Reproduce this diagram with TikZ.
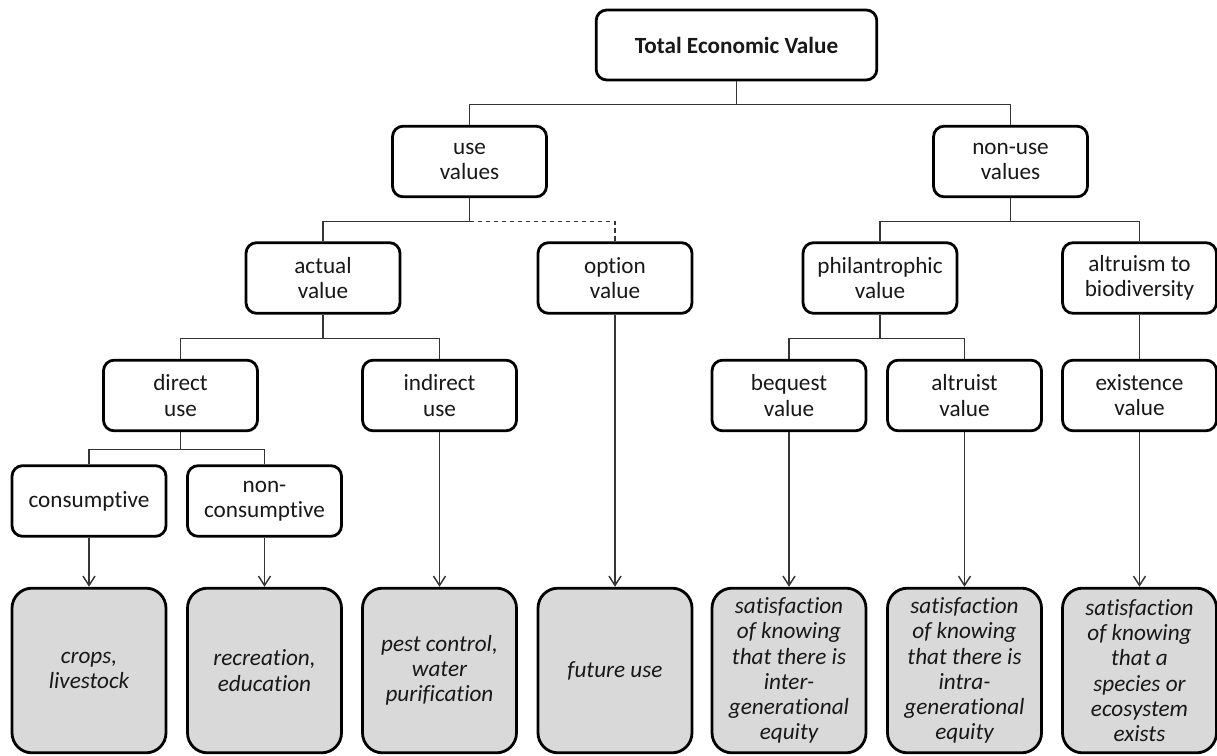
\documentclass[tikz,border=0pt]{standalone}
\usepackage{fontspec}
\setmainfont[Ligatures={NoCommon,NoContextual,NoRare}]{Carlito}
\usetikzlibrary{arrows.meta}
\definecolor{leaffill}{HTML}{D9D9D9}
\definecolor{wire}{HTML}{353535}
\definecolor{ink}{HTML}{181818}
\begin{document}
\begin{tikzpicture}[x=0.75pt,y=-0.75pt,
  every node/.style={font=\fontsize{17.4pt}{18.9pt}\selectfont, text=ink},
  catbox/.style={draw=black, line width=2.1pt, rounded corners=8pt, fill=white,
    align=center, minimum width=115.5pt, minimum height=53pt, inner sep=0pt},
  topbox/.style={catbox, minimum width=210.5pt, minimum height=52.5pt, font=\fontsize{17.4pt}{18.9pt}\selectfont\bfseries},
  leafbox/.style={draw=black, line width=2.1pt, rounded corners=15pt, fill=leaffill,
    align=center, minimum width=115.5pt, minimum height=123.5pt, inner sep=0pt,
    font=\fontsize{17.4pt}{18.9pt}\selectfont\itshape},
  link/.style={draw=wire, line width=1.1pt},
  optlink/.style={link, dash pattern=on 3.6pt off 2.4pt},
  feed/.style={link, -{Straight Barb[length=7pt,width=9pt,line width=1.1pt]}}
]
\useasboundingbox (0,0) rectangle (1217,756);

% root
\node[topbox] (tev) at (736.5,45) {Total Economic Value};

% first split
\node[catbox] (use)    at (469.5,161.5) {use\\values};
\node[catbox] (nonuse) at (1010.5,161.5) {non-use\\values};

% second level
\node[catbox] (actual) at (323,278) {actual\\value};
\node[catbox] (option) at (615,278) {option\\value};
\node[catbox] (phil)   at (880,278) {philantrophic\\value};
\node[catbox] (altbio) at (1139.5,278) {altruism to\\biodiversity};

% third level
\node[catbox] (direct)    at (180.5,395.5) {direct\\use};
\node[catbox] (indirect)  at (439.5,395.5) {indirect\\use};
\node[catbox] (bequest)   at (789,395.5) {bequest\\value};
\node[catbox] (altruist)  at (964.5,395.5) {altruist\\value};
\node[catbox] (existence) at (1139.5,395.5) {existence\\value};

% fourth level
\node[catbox] (consum)    at (89,501) {consumptive};
\node[catbox] (noncons)   at (264.5,501) {non-\\consumptive};

% leaves
\node[leafbox] (crops)   at (89,670.5)    {crops,\\livestock};
\node[leafbox] (recr)    at (264.5,670.5) {recreation,\\education};
\node[leafbox] (pest)    at (439.5,670.5) {pest control,\\water\\purification};
\node[leafbox] (future)  at (615,670.5)   {future use};
\node[leafbox] (inter)   at (789,670.5)   {satisfaction\\of knowing\\that there is\\inter-\\generational\\equity};
\node[leafbox] (intra)   at (964.5,670.5) {satisfaction\\of knowing\\that there is\\intra-\\generational\\equity};
\node[leafbox] (exists)  at (1139.5,670.5) {satisfaction\\of knowing\\that a\\species or\\ecosystem\\exists};

% tree connectors
\draw[link] (tev.south) -- ++(0,23) -| (use.north);
\draw[link] (tev.south) -- ++(0,23) -| (nonuse.north);

\path (use.south) ++(0,23) coordinate (usebus);
\draw[link] (use.south) -- (usebus) -| (actual.north);
\draw[optlink] (usebus) -| (option.north);

\draw[link] (nonuse.south) -- ++(0,23) -| (phil.north);
\draw[link] (nonuse.south) -- ++(0,23) -| (altbio.north);

\draw[link] (actual.south) -- ++(0,24) -| (direct.north);
\draw[link] (actual.south) -- ++(0,24) -| (indirect.north);

\draw[link] (phil.south) -- ++(0,24) -| (bequest.north);
\draw[link] (phil.south) -- ++(0,24) -| (altruist.north);
\draw[link] (altbio.south) -- (existence.north);

\draw[link] (direct.south) -- ++(0,17) -| (consum.north);
\draw[link] (direct.south) -- ++(0,17) -| (noncons.north);

% arrows into the leaves
\draw[feed] (consum.south)    -- (crops.north);
\draw[feed] (noncons.south)   -- (recr.north);
\draw[feed] (indirect.south)  -- (pest.north);
\draw[feed] (option.south)    -- (future.north);
\draw[feed] (bequest.south)   -- (inter.north);
\draw[feed] (altruist.south)  -- (intra.north);
\draw[feed] (existence.south) -- (exists.north);
\end{tikzpicture}
\end{document}
